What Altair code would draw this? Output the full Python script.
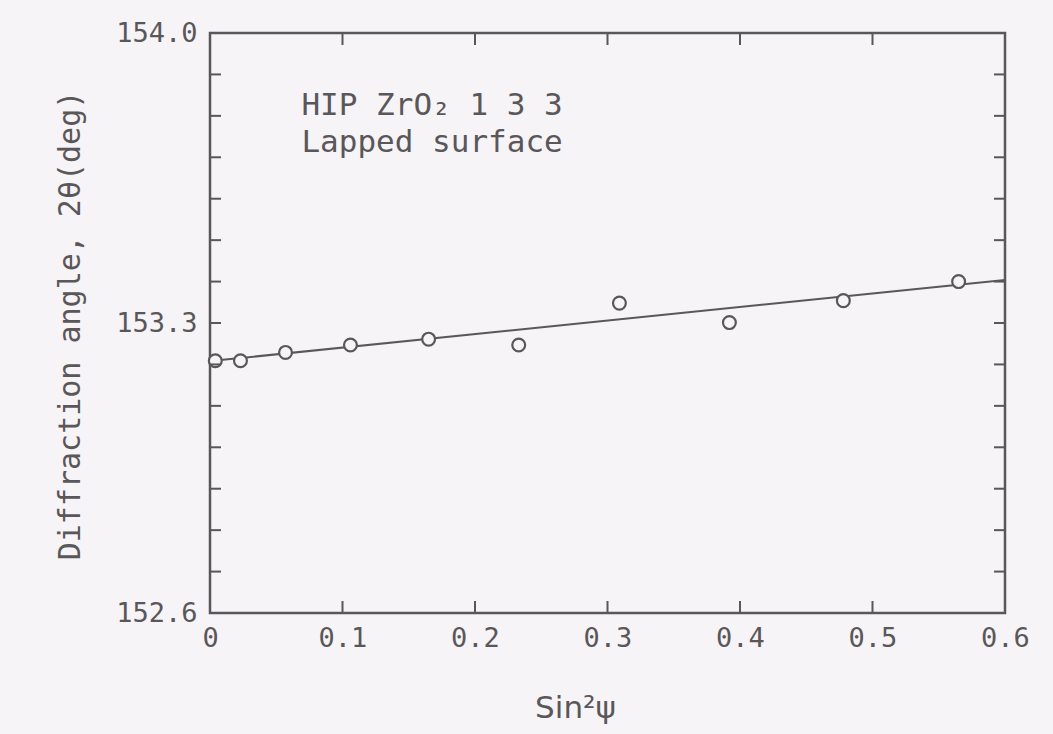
import altair as alt
import pandas as pd

# Data
sin2psi = [0.004, 0.023, 0.057, 0.106, 0.165, 0.233, 0.309, 0.392, 0.478, 0.565]
two_theta = [153.209, 153.209, 153.229, 153.247, 153.261, 153.247, 153.348, 153.301, 153.354, 153.400]

fit_x = [0.0, 0.6]
fit_y = [153.208, 153.404]

y_tick_values = [152.6, 152.7, 152.8, 152.9, 153.0, 153.1, 153.2, 153.3,
                 153.4, 153.5, 153.6, 153.7, 153.8, 153.9, 154.0]
y_label_values = [152.6, 153.3, 154.0]
x_tick_values = [0.0, 0.1, 0.2, 0.3, 0.4, 0.5, 0.6]

note_lines = ["HIP ZrO\u2082 1 3 3", "Lapped surface"]
note_x = [0.069, 0.069]
note_y = [153.802, 153.713]

W, H = 795, 580
INK = "#5a575a"
BG = "#f6f4f6"
MONO = "DejaVu Sans Mono"

pts = pd.DataFrame({"s": sin2psi, "t": two_theta})
fit = pd.DataFrame({"s": fit_x, "t": fit_y})
yt = pd.DataFrame({"t": y_tick_values})
xt = pd.DataFrame({"s": x_tick_values[1:-1]})
notes = pd.DataFrame({"s": note_x, "t": note_y, "label": note_lines})

xscale = alt.Scale(domain=[0, 0.6], nice=False, zero=False)
yscale = alt.Scale(domain=[152.6, 154.0], nice=False, zero=False)

xaxis = alt.Axis(
    values=x_tick_values,
    labelExpr="datum.value == 0 ? '0' : format(datum.value, '.1f')",
    ticks=False, domain=False, grid=False, labelFlush=False, labelOverlap=False,
    labelFont=MONO, labelFontSize=27, labelColor=INK, labelPadding=12,
    title="Sin\u00b2\u03c8", titleFont="DejaVu Sans", titleFontSize=31,
    titleFontWeight="normal", titleColor=INK,
    titleX=365, titleY=104, titleAlign="center", titleBaseline="alphabetic",
)
yaxis = alt.Axis(
    values=y_label_values, format=".1f",
    ticks=False, domain=False, grid=False, labelFlush=False, labelOverlap=False,
    labelFont=MONO, labelFontSize=27, labelColor=INK, labelPadding=13,
    title="Diffraction angle, 2\u03b8(deg)", titleFont=MONO, titleFontSize=30,
    titleFontWeight="normal", titleColor=INK,
    titleX=-131, titleY=292, titleAngle=270, titleAlign="center",
    titleBaseline="alphabetic",
)

base_x = alt.X("s:Q", scale=xscale, axis=xaxis)
base_y = alt.Y("t:Q", scale=yscale, axis=yaxis)

line = alt.Chart(fit).mark_line(color=INK, strokeWidth=2).encode(x=base_x, y=base_y)

points = alt.Chart(pts).mark_point(
    shape="circle", size=165, filled=True, fill=BG, stroke=INK, strokeWidth=2.2, opacity=1
).encode(x="s:Q", y="t:Q")

tick_len = 11
ytick_left = alt.Chart(yt).mark_rule(color=INK, strokeWidth=2).encode(
    y="t:Q", x=alt.value(0), x2=alt.value(tick_len))
ytick_right = alt.Chart(yt).mark_rule(color=INK, strokeWidth=2).encode(
    y="t:Q", x=alt.value(W), x2=alt.value(W - tick_len))
xtick_bottom = alt.Chart(xt).mark_rule(color=INK, strokeWidth=2).encode(
    x="s:Q", y=alt.value(H), y2=alt.value(H - 12))
xtick_top = alt.Chart(xt).mark_rule(color=INK, strokeWidth=2).encode(
    x="s:Q", y=alt.value(0), y2=alt.value(12))

text = alt.Chart(notes).mark_text(
    align="left", baseline="alphabetic", font=MONO, fontSize=31, color=INK
).encode(x="s:Q", y="t:Q", text="label:N")

chart = alt.layer(
    line, points, ytick_left, ytick_right, xtick_bottom, xtick_top, text
).properties(
    width=W, height=H,
    autosize=alt.AutoSizeParams(type="none"),
    padding={"left": 210, "top": 33, "right": 48, "bottom": 121},
    background=BG,
).configure_view(
    stroke=INK, strokeWidth=2.5
)

chart.save("out.html", embed_options={"renderer": "svg", "actions": False})
